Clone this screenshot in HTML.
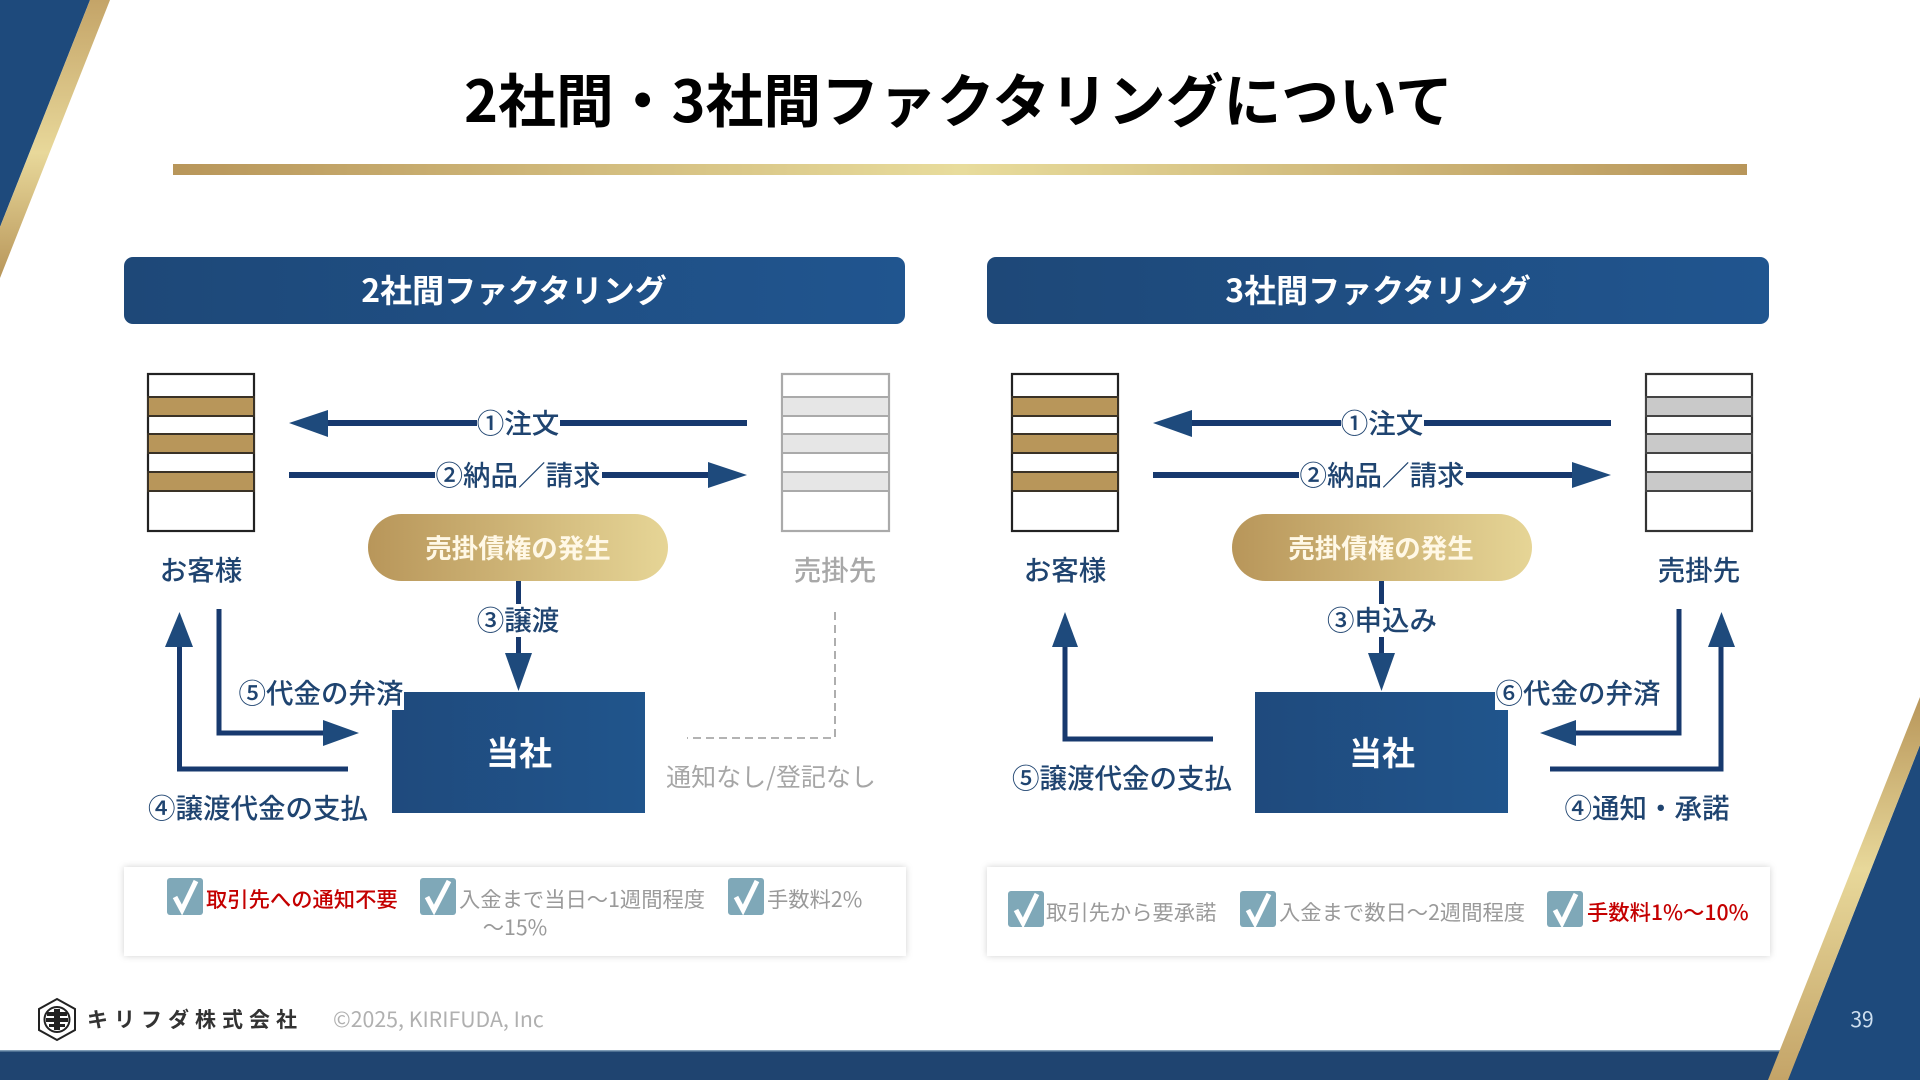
<!DOCTYPE html>
<html lang="ja">
<head>
<meta charset="utf-8">
<title>2社間・3社間ファクタリングについて</title>
<style>
html,body{margin:0;padding:0;background:#fff;width:1920px;height:1080px;overflow:hidden}
svg{display:block}
text{font-family:"Noto Sans CJK JP","Liberation Sans",sans-serif}
.lb{font-size:27.5px;font-weight:500;fill:#1f4470;text-anchor:middle}
.ck{font-size:21.3px;fill:#9a9a9a}
.red{font-size:21.3px;fill:#c40000;font-weight:500}
</style>
</head>
<body>
<svg width="1920" height="1080" viewBox="0 0 1920 1080" xmlns="http://www.w3.org/2000/svg">
<defs>
<linearGradient id="navy" x1="0" y1="0" x2="1" y2="0"><stop offset="0" stop-color="#1e4878"/><stop offset="1" stop-color="#20558f"/></linearGradient>
<linearGradient id="navyBox" x1="0" y1="0" x2="1" y2="0"><stop offset="0" stop-color="#1f4a7d"/><stop offset="1" stop-color="#20558c"/></linearGradient>
<linearGradient id="goldH" x1="0" y1="0" x2="1" y2="0"><stop offset="0" stop-color="#b8965a"/><stop offset="1" stop-color="#e6d596"/></linearGradient>
<linearGradient id="goldLine" x1="0" y1="0" x2="1" y2="0"><stop offset="0" stop-color="#b8965a"/><stop offset=".5" stop-color="#e8dc9c"/><stop offset="1" stop-color="#b8965a"/></linearGradient>
<linearGradient id="goldV" x1="0" y1="0" x2="0" y2="1"><stop offset="0" stop-color="#c4a468"/><stop offset=".55" stop-color="#e8d89a"/><stop offset="1" stop-color="#b8965a"/></linearGradient>
<linearGradient id="goldV2" x1="0" y1="1" x2="0" y2="0"><stop offset="0" stop-color="#c4a468"/><stop offset=".55" stop-color="#e8d89a"/><stop offset="1" stop-color="#b8965a"/></linearGradient>
<filter id="sh" x="-5%" y="-20%" width="110%" height="140%"><feDropShadow dx="0" dy="0" stdDeviation="3.5" flood-color="#000" flood-opacity=".18"/></filter>
</defs>

<!-- decorations -->
<polygon points="0,0 90,0 0,227" fill="#1e4a7c"/>
<polygon points="90,0 110,0 0,278 0,227" fill="url(#goldV)"/>
<rect x="0" y="1051" width="1920" height="29" fill="#1f4470"/>
<rect x="0" y="1050" width="1790" height="1.5" fill="#7d9bb5"/>
<polygon points="1788,1080 1920,1080 1920,745" fill="#1e4a7c"/>
<polygon points="1768,1080 1788,1080 1920,745 1920,697" fill="url(#goldV2)"/>

<!-- title -->
<text x="958.5" y="122" font-size="57.8" font-weight="700" fill="#000" text-anchor="middle">2社間・3社間ファクタリングについて</text>
<rect x="173" y="164" width="1574" height="11" fill="url(#goldLine)"/>

<!-- headers -->
<rect x="124" y="257" width="781" height="67" rx="9" fill="url(#navy)"/>
<text x="514" y="302" font-size="32" font-weight="700" fill="#fff" text-anchor="middle">2社間ファクタリング</text>
<rect x="987" y="257" width="782" height="67" rx="9" fill="url(#navy)"/>
<text x="1378" y="302" font-size="32" font-weight="700" fill="#fff" text-anchor="middle">3社間ファクタリング</text>

<!-- LEFT PANEL -->
<g stroke="#222" stroke-width="2.2" fill="#fff"><rect x="148" y="374" width="106" height="157"/></g>
<g stroke="#3a3226" stroke-width="2" fill="#b8965a">
<rect x="148" y="397" width="106" height="19"/><rect x="148" y="434" width="106" height="19"/><rect x="148" y="472" width="106" height="19"/>
</g>
<rect x="782" y="374" width="107" height="157" fill="#fff" stroke="#aaa" stroke-width="2.2"/>
<g stroke="#aaa" stroke-width="2" fill="#e6e6e6">
<rect x="782" y="397" width="107" height="19"/><rect x="782" y="434" width="107" height="19"/><rect x="782" y="472" width="107" height="19"/>
</g>

<rect x="320" y="420" width="427" height="6" fill="#17396e"/>
<polygon points="289,423 328,410 328,437" fill="#1e4a7c"/>
<rect x="289" y="472" width="424" height="6" fill="#17396e"/>
<polygon points="747,475 708,462 708,488" fill="#1e4a7c"/>
<rect x="477" y="405" width="83" height="36" fill="#fff"/>
<rect x="435" y="457" width="167" height="36" fill="#fff"/>
<text class="lb" x="518" y="433">①注文</text>
<text class="lb" x="518" y="485">②納品／請求</text>

<rect x="368" y="514" width="300" height="67" rx="33.5" fill="url(#goldH)"/>
<text x="518" y="558" font-size="26.5" font-weight="700" fill="#fff8e6" text-anchor="middle">売掛債権の発生</text>

<text class="lb" x="201" y="580">お客様</text>
<text class="lb" x="835" y="580" style="fill:#a8a8a8">売掛先</text>

<rect x="516" y="581" width="5" height="23" fill="#17396e"/>
<rect x="516" y="637" width="5" height="20" fill="#17396e"/>
<polygon points="505,653 532,653 518.5,691" fill="#1e4a7c"/>
<text class="lb" x="518" y="630">③譲渡</text>

<rect x="392" y="692" width="253" height="121" fill="url(#navyBox)"/>
<text x="519" y="765" font-size="33" font-weight="700" fill="#fff" text-anchor="middle">当社</text>

<!-- arrow 5 -->
<polyline points="219,609 219,733 325,733" fill="none" stroke="#17396e" stroke-width="5"/>
<polygon points="359,733 323,720 323,746" fill="#1e4a7c"/>
<!-- arrow 4 -->
<polyline points="348,769 179.5,769 179.5,645" fill="none" stroke="#17396e" stroke-width="5"/>
<polygon points="179.5,612 165,647 193,647" fill="#1e4a7c"/>
<rect x="239" y="676" width="165" height="34" fill="#fff"/>
<text class="lb" x="321" y="703">⑤代金の弁済</text>
<text class="lb" x="258" y="818">④譲渡代金の支払</text>

<polyline points="835,612 835,738 687,738" fill="none" stroke="#9a9a9a" stroke-width="1.6" stroke-dasharray="8 5"/>
<text x="771" y="786" font-size="25" fill="#a6a6a6" text-anchor="middle">通知なし/登記なし</text>

<!-- left card -->
<rect x="124" y="867" width="782" height="89" fill="#fff" filter="url(#sh)"/>
<g>
<rect x="167" y="878" width="36" height="37" rx="3" fill="#7fa8b8"/><polyline points="175,897 182,910 196,881" fill="none" stroke="#fff" stroke-width="5"/>
<rect x="420" y="878" width="36" height="37" rx="3" fill="#7fa8b8"/><polyline points="427,897 434,910 449,881" fill="none" stroke="#fff" stroke-width="5"/>
<rect x="728" y="878" width="36" height="37" rx="3" fill="#7fa8b8"/><polyline points="736,897 743,910 757,881" fill="none" stroke="#fff" stroke-width="5"/>
</g>
<text class="red" x="206" y="907">取引先への通知不要</text>
<text class="ck" x="459" y="907">入金まで当日～1週間程度</text>
<text class="ck" x="767" y="907">手数料2%</text>
<text class="ck" x="515" y="935" text-anchor="middle">～15%</text>

<!-- RIGHT PANEL -->
<rect x="1012" y="374" width="106" height="157" fill="#fff" stroke="#222" stroke-width="2.2"/>
<g stroke="#3a3226" stroke-width="2" fill="#b8965a">
<rect x="1012" y="397" width="106" height="19"/><rect x="1012" y="434" width="106" height="19"/><rect x="1012" y="472" width="106" height="19"/>
</g>
<rect x="1646" y="374" width="106" height="157" fill="#fff" stroke="#333" stroke-width="2.2"/>
<g stroke="#444" stroke-width="2" fill="#c9c9c9">
<rect x="1646" y="397" width="106" height="19"/><rect x="1646" y="434" width="106" height="19"/><rect x="1646" y="472" width="106" height="19"/>
</g>

<rect x="1184" y="420" width="427" height="6" fill="#17396e"/>
<polygon points="1153,423 1192,410 1192,437" fill="#1e4a7c"/>
<rect x="1153" y="472" width="424" height="6" fill="#17396e"/>
<polygon points="1611,475 1572,462 1572,488" fill="#1e4a7c"/>
<rect x="1341" y="405" width="83" height="36" fill="#fff"/>
<rect x="1299" y="457" width="167" height="36" fill="#fff"/>
<text class="lb" x="1382" y="433">①注文</text>
<text class="lb" x="1382" y="485">②納品／請求</text>

<rect x="1232" y="514" width="300" height="67" rx="33.5" fill="url(#goldH)"/>
<text x="1381" y="558" font-size="26.5" font-weight="700" fill="#fff8e6" text-anchor="middle">売掛債権の発生</text>

<text class="lb" x="1065" y="580">お客様</text>
<text class="lb" x="1699" y="580">売掛先</text>

<rect x="1379" y="581" width="5" height="23" fill="#17396e"/>
<rect x="1379" y="637" width="5" height="20" fill="#17396e"/>
<polygon points="1368,653 1395,653 1381.5,691" fill="#1e4a7c"/>
<text class="lb" x="1382" y="630">③申込み</text>

<rect x="1255" y="692" width="253" height="121" fill="url(#navyBox)"/>
<text x="1382" y="765" font-size="33" font-weight="700" fill="#fff" text-anchor="middle">当社</text>

<!-- arrow 6 -->
<polyline points="1679,609 1679,733 1574,733" fill="none" stroke="#17396e" stroke-width="5"/>
<polygon points="1540,733 1576,720 1576,746" fill="#1e4a7c"/>
<!-- arrow 4 -->
<polyline points="1550,769 1721,769 1721,645" fill="none" stroke="#17396e" stroke-width="5"/>
<polygon points="1721.5,612 1708,647 1735,647" fill="#1e4a7c"/>
<!-- arrow 5 -->
<polyline points="1213,739 1065,739 1065,645" fill="none" stroke="#17396e" stroke-width="5"/>
<polygon points="1065,612 1052,647 1078,647" fill="#1e4a7c"/>

<rect x="1495" y="676" width="165" height="34" fill="#fff"/>
<text class="lb" x="1578" y="703">⑥代金の弁済</text>
<text class="lb" x="1647" y="818">④通知・承諾</text>
<text class="lb" x="1122" y="788">⑤譲渡代金の支払</text>

<!-- right card -->
<rect x="987" y="867" width="783" height="89" fill="#fff" filter="url(#sh)"/>
<g>
<rect x="1008" y="891" width="36" height="36" rx="3" fill="#7fa8b8"/><polyline points="1016,910 1023,923 1037,894" fill="none" stroke="#fff" stroke-width="5"/>
<rect x="1240" y="891" width="36" height="36" rx="3" fill="#7fa8b8"/><polyline points="1248,910 1255,923 1269,894" fill="none" stroke="#fff" stroke-width="5"/>
<rect x="1547" y="891" width="36" height="36" rx="3" fill="#7fa8b8"/><polyline points="1555,910 1562,923 1576,894" fill="none" stroke="#fff" stroke-width="5"/>
</g>
<text class="ck" x="1046" y="920">取引先から要承諾</text>
<text class="ck" x="1279" y="920">入金まで数日～2週間程度</text>
<text class="red" x="1587" y="920">手数料1%～10%</text>

<!-- footer -->
<polygon points="57,999 75,1009 75,1030 57,1040 39,1030 39,1009" fill="#fff" stroke="#222" stroke-width="2"/>
<circle cx="57" cy="1019.5" r="12.5" fill="none" stroke="#222" stroke-width="2"/>
<g fill="#222"><rect x="47" y="1012" width="20" height="4"/><rect x="46" y="1018" width="22" height="4"/><rect x="49" y="1024" width="16" height="3"/><rect x="54" y="1009" width="6" height="21"/></g>
<text x="87" y="1027" font-size="21" font-weight="700" fill="#333" letter-spacing="6">キリフダ株式会社</text>
<text x="333" y="1027" font-size="21.3" fill="#b0b0b0">©2025, KIRIFUDA, Inc</text>
<text x="1862" y="1027" font-size="21" fill="#cfe0f0" text-anchor="middle">39</text>
</svg>
</body>
</html>
